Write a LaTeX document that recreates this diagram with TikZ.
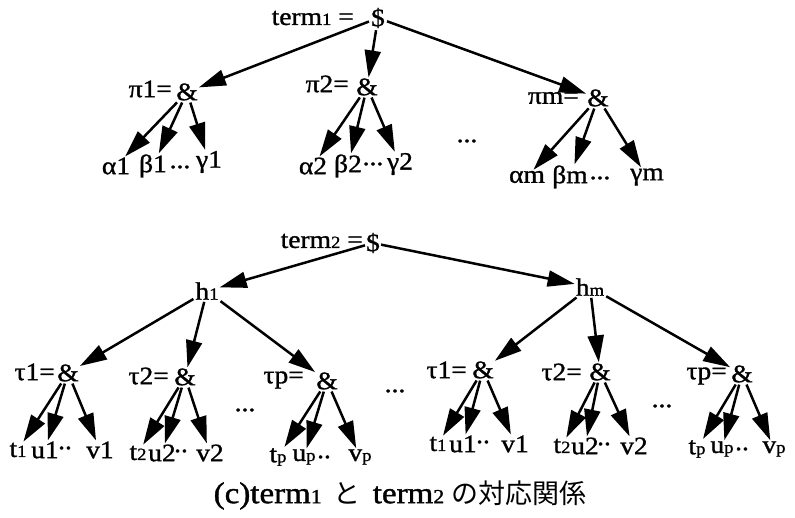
\documentclass[tikz,border=0pt]{standalone}
\usepackage{fontspec}
\setmainfont{Liberation Serif}[FakeStretch=1.1,FakeBold=1.2]
\newfontfamily\cjk{Noto Sans CJK JP}
\usetikzlibrary{arrows.meta}
\newcommand\smd[1]{{\fontsize{17}{17}\selectfont #1}}
\begin{document}
\begin{tikzpicture}[x=1pt,y=-1pt,
  every node/.style={font=\fontsize{25}{28}\selectfont, inner sep=1pt},
  lbl/.style={anchor=east},
  arr/.style={-{Triangle[length=27pt,width=16pt]}, line width=2.5pt, shorten <=1pt, shorten >=0pt}]
\useasboundingbox (0,0) rectangle (795,517);
% ---------- term1 ----------
\node[lbl] (lt1) at (355,18) {term\smd{1} =};
\node (d1) at (378,18) {\$};
\node (a1) at (187,92) {\&};
\node[lbl] (la1) at (173,89) {π1=};
\node (a2) at (367,87) {\&};
\node[lbl] (la2) at (350,84) {π2=};
\node (am) at (598,98) {\&};
\node[lbl] (lam) at (580,98) {πm=};
\draw[arr] (d1) -- (a1);
\draw[arr] (d1) -- (a2);
\draw[arr] (d1) -- (am);
% children pi1
\node (x11) at (116,166) {α1};
\node (x12) at (153,166) {β1};
\node (x1d) at (180,167) {...};
\node (x13) at (209,162) {γ1};
\draw[arr] (a1) -- (x11);
\draw[arr] (a1) -- (x12);
\draw[arr] (a1) -- (x13);
% children pi2
\node (x21) at (313,166) {α2};
\node (x22) at (348,166) {β2};
\node (x2d) at (373,164) {...};
\node (x23) at (400,164) {γ2};
\draw[arr] (a2) -- (x21);
\draw[arr] (a2) -- (x22);
\draw[arr] (a2) -- (x23);
\node (md1) at (467,141) {...};
% children pim
\node (xm1) at (527,177) {αm};
\node (xm2) at (570,177) {βm};
\node (xmd) at (600,178) {...};
\node (xm3) at (647,177) {γm};
\draw[arr] (am) -- (xm1);
\draw[arr] (am) -- (xm2);
\draw[arr] (am) -- (xm3);
% ---------- term2 ----------
\node[lbl] (lt2) at (364,241) {term\smd{2} =};
\node[inner sep=0pt] (d2) at (373,243) {\$};
\node (h1) at (207,291) {h\smd{1}};
\node (hm) at (590,287) {h\smd{m}};
\draw[arr] (d2) -- (h1);
\draw[arr] (d2) -- (hm);
% left tau
\node (b1) at (68,373) {\&};
\node[lbl] (lb1) at (56,372) {τ1=};
\node (b2) at (185,377) {\&};
\node[lbl] (lb2) at (170,376) {τ2=};
\node (bp) at (327,381) {\&};
\node[lbl] (lbp) at (305,380) {τp=};
\draw[arr] (h1) -- (b1);
\draw[arr] (h1) -- (b2);
\draw[arr] (h1) -- (bp);
\node (ld1) at (245,410) {...};
\node (md2) at (395,391) {...};
\node (t11) at (18,450) {t\smd{1}};
\node (t12) at (45,450) {u1};
\node (t1d) at (65,448) {..};
\node (t13) at (100,450) {v1};
\draw[arr] (b1) -- (t11);
\draw[arr] (b1) -- (t12);
\draw[arr] (b1) -- (t13);
\node (t21) at (138,453) {t\smd{2}};
\node (t22) at (162,453) {u2};
\node (t2d) at (181,451) {..};
\node (t23) at (210,453) {v2};
\draw[arr] (b2) -- (t21);
\draw[arr] (b2) -- (t22);
\draw[arr] (b2) -- (t23);
\node (tp1) at (278,457) {t\smd{p}};
\node (tp2) at (304,457) {u\smd{p}};
\node (tpd) at (324,457) {..};
\node (tp3) at (360,457) {v\smd{p}};
\draw[arr] (bp) -- (tp1);
\draw[arr] (bp) -- (tp2);
\draw[arr] (bp) -- (tp3);
% right tau
\node (c1) at (483,370) {\&};
\node[lbl] (lc1) at (468,370) {τ1=};
\node (c2) at (600,372) {\&};
\node[lbl] (lc2) at (583,372) {τ2=};
\node (cp) at (742,374) {\&};
\node[lbl] (lcp) at (728,376) {τp=};
\draw[arr] (hm) -- (c1);
\draw[arr] (hm) -- (c2);
\draw[arr] (hm) -- (cp);
\node (rd1) at (662,406) {...};
\node (r11) at (438,444) {t\smd{1}};
\node (r12) at (463,444) {u1};
\node (r1d) at (483,442) {..};
\node (r13) at (515,444) {v1};
\draw[arr] (c1) -- (r11);
\draw[arr] (c1) -- (r12);
\draw[arr] (c1) -- (r13);
\node (r21) at (562,446) {t\smd{2}};
\node (r22) at (585,446) {u2};
\node (r2d) at (604,444) {..};
\node (r23) at (634,446) {v2};
\draw[arr] (c2) -- (r21);
\draw[arr] (c2) -- (r22);
\draw[arr] (c2) -- (r23);
\node (rp1) at (697,449) {t\smd{p}};
\node (rp2) at (722,449) {u\smd{p}};
\node (rpd) at (742,449) {..};
\node (rp3) at (774,449) {v\smd{p}};
\draw[arr] (cp) -- (rp1);
\draw[arr] (cp) -- (rp2);
\draw[arr] (cp) -- (rp3);
% caption
\node[font=\fontsize{30}{32}\selectfont] (cap) at (400,495) {(c)term{\fontsize{20}{20}\selectfont 1}\hspace{12pt}{\cjk\fontsize{27}{30}\selectfont と}\hspace{12pt}term{\fontsize{20}{20}\selectfont 2}\hspace{7pt}{\cjk\fontsize{27}{30}\selectfont の対応関係}};
\end{tikzpicture}
\end{document}
